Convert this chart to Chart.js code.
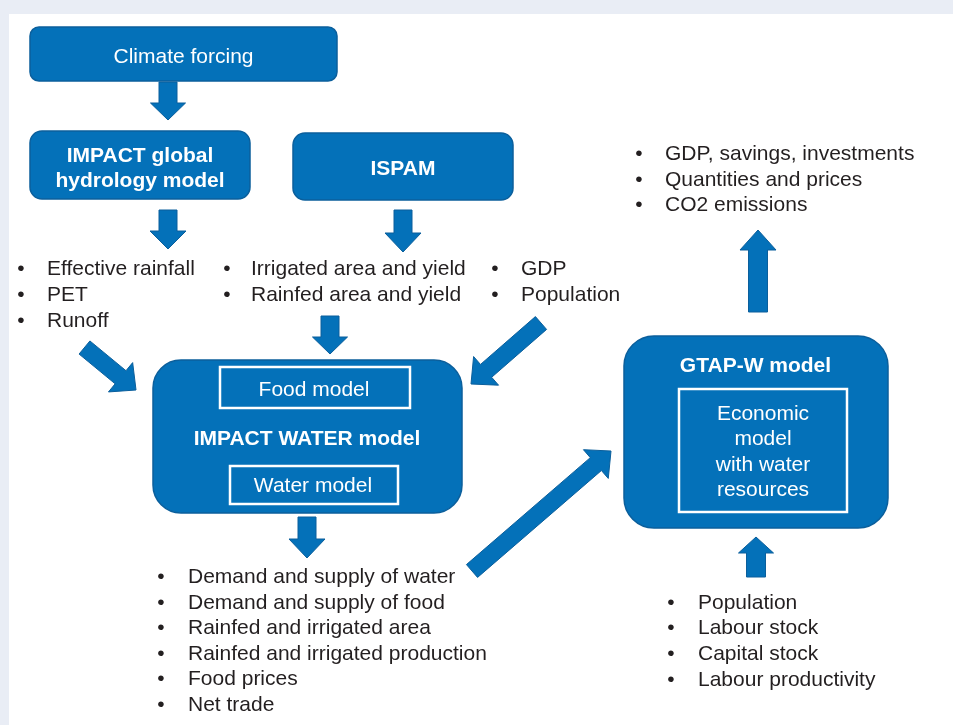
<!DOCTYPE html>
<html>
<head>
<meta charset="utf-8">
<script src="https://cdn.jsdelivr.net/npm/chart.js@4.4.1/dist/chart.umd.min.js"></script>
<style>
  html, body { margin: 0; padding: 0; background: #e9edf5; }
  #wrap { width: 953px; height: 725px; }
</style>
</head>
<body>
<div id="wrap"><canvas id="flow" width="953" height="725"></canvas></div>
<script>
// Box labels
const climateLabel = ["Climate forcing"];
const hydrologyLabel = ["IMPACT global", "hydrology model"];
const ispamLabel = ["ISPAM"];
const impactLabel = ["IMPACT WATER model"];
const foodLabel = ["Food model"];
const waterLabel = ["Water model"];
const gtapLabel = ["GTAP-W model"];
const economicLabel = ["Economic", "model", "with water", "resources"];

// Bullet lists
const hydroOutputs = ["Effective rainfall", "PET", "Runoff"];
const ispamOutputs = ["Irrigated area and yield", "Rainfed area and yield"];
const socioInputs = ["GDP", "Population"];
const gtapOutputs = ["GDP, savings, investments", "Quantities and prices", "CO2 emissions"];
const impactOutputs = [
  "Demand and supply of water",
  "Demand and supply of food",
  "Rainfed and irrigated area",
  "Rainfed and irrigated production",
  "Food prices",
  "Net trade"
];
const gtapInputs = ["Population", "Labour stock", "Capital stock", "Labour productivity"];

// Layout, in axis units (x 0..953, y 0..725 top-down)
const W = 953, H = 725;
const BLUE = "#0471b9";
const EDGE = "#0b5f9c";
const INK = "#231f20";
const FONT = '"Liberation Sans", Arial, sans-serif';

const boxes = [
  { rect: [30, 27, 337, 81], r: 9, lines: climateLabel, bold: false, cx: 183.5, base: [63] },
  { rect: [30, 131, 250, 199], r: 12, lines: hydrologyLabel, bold: true, cx: 140, base: [162, 187] },
  { rect: [293, 133, 513, 200], r: 12, lines: ispamLabel, bold: true, cx: 403, base: [175] },
  { rect: [153, 360, 462, 513], r: 28, lines: impactLabel, bold: true, cx: 307, base: [445] },
  { rect: [624, 336, 888, 528], r: 30, lines: gtapLabel, bold: true, cx: 755.5, base: [372] }
];

const frames = [
  { rect: [220, 367, 410, 408], lines: foodLabel, cx: 314, base: [396] },
  { rect: [230, 466, 398, 504], lines: waterLabel, cx: 313, base: [492] },
  { rect: [679, 389, 847, 512], lines: economicLabel, cx: 763, base: [420, 445, 471, 496] }
];

const lists = [
  { items: hydroOutputs, bulletX: 21, textX: 47, base0: 275, step: 26 },
  { items: ispamOutputs, bulletX: 227, textX: 251, base0: 275, step: 26 },
  { items: socioInputs, bulletX: 495, textX: 521, base0: 275, step: 26 },
  { items: gtapOutputs, bulletX: 639, textX: 665, base0: 160, step: 25.5 },
  { items: impactOutputs, bulletX: 161, textX: 188, base0: 583, step: 25.6 },
  { items: gtapInputs, bulletX: 671, textX: 698, base0: 608.5, step: 25.8 }
];

const arrows = [
  { from: [168, 82], to: [168, 120], shaft: 18, head: 35, headLen: 17 },
  { from: [168, 210], to: [168, 249], shaft: 18, head: 36, headLen: 18 },
  { from: [403, 210], to: [403, 252], shaft: 18, head: 36, headLen: 19 },
  { from: [330, 316], to: [330, 354], shaft: 18, head: 35, headLen: 17 },
  { from: [307, 517], to: [307, 558], shaft: 18, head: 36, headLen: 19 },
  { from: [756, 577], to: [756, 537], shaft: 19, head: 35, headLen: 16 },
  { from: [758, 312], to: [758, 230], shaft: 19, head: 36, headLen: 20 },
  { from: [84.5, 347.5], to: [136, 390], shaft: 17, head: 38, headLen: 20 },
  { from: [541, 323], to: [471, 384], shaft: 17, head: 38, headLen: 20 },
  { from: [472, 571], to: [611, 451], shaft: 17, head: 38, headLen: 20 }
];

const flowPlugin = {
  id: "flow",
  beforeDraw(chart) {
    const ctx = chart.ctx;
    const sx = v => chart.scales.x.getPixelForValue(v);
    const sy = v => chart.scales.y.getPixelForValue(v);
    ctx.save();
    ctx.fillStyle = "#e9edf5";
    ctx.fillRect(0, 0, chart.width, chart.height);
    ctx.fillStyle = "#ffffff";
    ctx.fillRect(sx(9), sy(14), sx(W) - sx(9), sy(H) - sy(14));
    ctx.restore();
  },
  afterDatasetsDraw(chart) {
    const ctx = chart.ctx;
    const sx = v => chart.scales.x.getPixelForValue(v);
    const sy = v => chart.scales.y.getPixelForValue(v);
    ctx.save();

    // arrows
    arrows.forEach(a => {
      const x0 = sx(a.from[0]), y0 = sy(a.from[1]);
      const x1 = sx(a.to[0]), y1 = sy(a.to[1]);
      const len = Math.hypot(x1 - x0, y1 - y0);
      const dx = (x1 - x0) / len, dy = (y1 - y0) / len;
      const nx = -dy, ny = dx;
      const bx = x1 - dx * a.headLen, by = y1 - dy * a.headLen;
      const s = a.shaft / 2, h = a.head / 2;
      ctx.beginPath();
      ctx.moveTo(x0 + nx * s, y0 + ny * s);
      ctx.lineTo(bx + nx * s, by + ny * s);
      ctx.lineTo(bx + nx * h, by + ny * h);
      ctx.lineTo(x1, y1);
      ctx.lineTo(bx - nx * h, by - ny * h);
      ctx.lineTo(bx - nx * s, by - ny * s);
      ctx.lineTo(x0 - nx * s, y0 - ny * s);
      ctx.closePath();
      ctx.fillStyle = BLUE;
      ctx.fill();
      ctx.lineWidth = 1;
      ctx.strokeStyle = EDGE;
      ctx.stroke();
    });

    // rounded boxes
    boxes.forEach(b => {
      const [x0, y0, x1, y1] = b.rect;
      ctx.beginPath();
      ctx.roundRect(sx(x0), sy(y0), sx(x1) - sx(x0), sy(y1) - sy(y0), b.r);
      ctx.fillStyle = BLUE;
      ctx.fill();
      ctx.lineWidth = 1.5;
      ctx.strokeStyle = EDGE;
      ctx.stroke();
      ctx.fillStyle = "#ffffff";
      ctx.font = (b.bold ? "bold " : "") + "21px " + FONT;
      ctx.textAlign = "center";
      ctx.textBaseline = "alphabetic";
      b.lines.forEach((t, i) => ctx.fillText(t, sx(b.cx), sy(b.base[i])));
    });

    // white inner frames
    frames.forEach(f => {
      const [x0, y0, x1, y1] = f.rect;
      ctx.lineWidth = 2.5;
      ctx.strokeStyle = "#ffffff";
      ctx.strokeRect(sx(x0), sy(y0), sx(x1) - sx(x0), sy(y1) - sy(y0));
      ctx.fillStyle = "#ffffff";
      ctx.font = "21px " + FONT;
      ctx.textAlign = "center";
      ctx.textBaseline = "alphabetic";
      f.lines.forEach((t, i) => ctx.fillText(t, sx(f.cx), sy(f.base[i])));
    });

    // bullet lists
    ctx.fillStyle = INK;
    ctx.font = "21px " + FONT;
    ctx.textBaseline = "alphabetic";
    lists.forEach(l => {
      l.items.forEach((t, i) => {
        const y = sy(l.base0 + i * l.step);
        ctx.textAlign = "center";
        ctx.fillText("\u2022", sx(l.bulletX), y);
        ctx.textAlign = "left";
        ctx.fillText(t, sx(l.textX), y);
      });
    });
    ctx.restore();
  }
};

const ctx = document.getElementById("flow").getContext("2d");
const flowChart = new Chart(ctx, {
  type: "scatter",
  data: { datasets: [{ data: [], pointRadius: 0 }] },
  options: {
    responsive: false,
    animation: false,
    layout: { padding: 0 },
    scales: {
      x: { type: "linear", min: 0, max: W, display: false },
      y: { type: "linear", min: 0, max: H, reverse: true, display: false }
    },
    plugins: { legend: { display: false }, tooltip: { enabled: false } }
  },
  plugins: [flowPlugin]
});
</script>
</body>
</html>
